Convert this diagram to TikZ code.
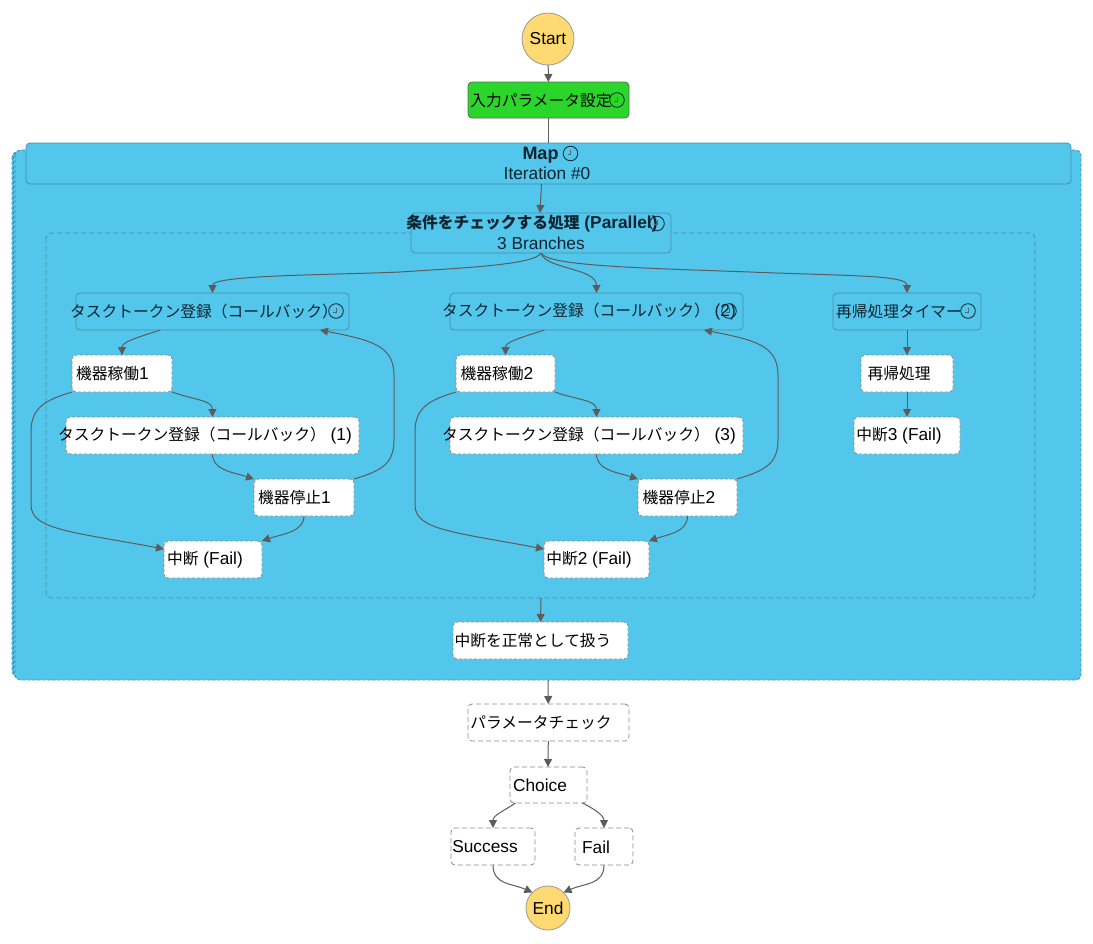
\documentclass[tikz,border=0pt]{standalone}
\usepackage{fontspec}
\setmainfont{Liberation Sans}
\newfontfamily\cjk[Scale=0.91]{Noto Sans CJK JP}
\usetikzlibrary{arrows.meta}
\definecolor{mapblue}{HTML}{53C6EC}
\definecolor{startyellow}{HTML}{FFD972}
\definecolor{okgreen}{HTML}{2BD62B}
\definecolor{edgegray}{HTML}{5C5C5C}
\definecolor{blueedge}{HTML}{4A8FAB}
\definecolor{dashgray}{HTML}{8A8A8A}
\definecolor{inkdark}{HTML}{0E2430}
\newcommand{\J}[1]{{\cjk #1}}
\newcommand{\bx}[8][]{%
  \node[#1,minimum width={(#5-#3)*1pt},minimum height={(#6-#4)*1pt}] (#2) at ({(#3+#5)/2},{(#4+#6)/2}) {};
  \node[txt] (#2t) at ({#7},{(#4+#6)/2+0.5}) {#8};}
\newcommand{\clk}[2]{%
  \draw[clockline] (#1,#2) circle[radius=7.3];
  \draw[clockhand] (#1,#2-3.5) -- (#1,#2+1) -- (#1-3,#2+1);}
\tikzset{
  base/.style={rectangle,rounded corners=4pt,inner sep=0pt,outer sep=0pt,line width=0.8pt},
  txt/.style={inner sep=0pt,outer sep=0pt,text=black,font=\fontsize{17.3}{20}\selectfont},
  ttxt/.style={inner sep=0pt,outer sep=0pt,text=inkdark,font=\fontsize{17.3}{20}\selectfont},
  okbox/.style={base,draw=gray!80!black,fill=okgreen},
  groupbox/.style={base,draw=blueedge,fill=mapblue},
  donebox/.style={base,draw=dashgray,dash pattern=on 3pt off 2pt,fill=white},
  waitbox/.style={base,draw=dashgray,dash pattern=on 5pt off 3pt,fill=white},
  terminal/.style={circle,draw=gray!80,fill=startyellow,inner sep=0pt,outer sep=0pt,line width=0.8pt},
  edge/.style={draw=edgegray,line width=1pt,-{Triangle[length=8pt,width=8pt]}},
  plain/.style={draw=edgegray,line width=1pt},
  clockline/.style={draw=inkdark,line width=0.8pt},
  clockhand/.style={draw=inkdark!70,line width=0.5pt},
  mapstack/.style={rounded corners=5pt,fill=mapblue,draw=blueedge,dash pattern=on 3pt off 2pt,line width=0.8pt},
  region/.style={rounded corners=5pt,draw=blueedge,dash pattern=on 5pt off 3pt,line width=0.8pt},
}
\begin{document}
\begin{tikzpicture}[x=1pt,y=-1pt]
\useasboundingbox (0,0) rectangle (1093,943);
% map group
\draw[mapstack] (12,152) rectangle (1071,676);
\draw[mapstack] (13.5,151) rectangle (1076,678);
\draw[mapstack] (15,150) rectangle (1081,680);
\node[inner sep=0pt,minimum size=0pt] (mapbottom) at (548,680) {};
\bx[groupbox]{map}{26}{143}{1071}{184}{548}{}
\node[ttxt,font=\fontsize{18}{20}\selectfont\bfseries] (maptitle) at (540.5,155) {Map};
\node[ttxt] (mapsub) at (547,173.5) {Iteration \#0};
\clk{570.5}{153.5}
% branches region
\draw[region] (46,233) rectangle (1035,598);
\node[inner sep=0pt,minimum size=0pt] (regionbottom) at (541,598) {};
% parallel
\bx[groupbox]{par}{411}{213}{671}{253}{541}{}
\node[ttxt,font=\fontsize{17.3}{20}\selectfont\bfseries] (partitle) at (532,223.5) {\J{条件をチェックする処理} (Parallel)};
\node[ttxt] (parsub) at (541,243.5) {3 Branches};
\clk{657}{223.5}
% top
\node[terminal,minimum size=52pt] (start) at (548,39) {};
\node[txt] (startt) at (548,38.5) {Start};
\bx[okbox]{input}{468}{82}{629}{118}{541}{\J{入力パラメータ設定}}
\clk{617}{100}
% task nodes
\bx[groupbox]{taskA}{76}{293}{349}{330}{204}{\textcolor{inkdark}{\J{タスクトークン登録（コールバック）}}}
\clk{336}{311}
\bx[groupbox]{taskB}{450}{293}{743}{330}{589}{\textcolor{inkdark}{\J{タスクトークン登録（コールバック）} (2)}}
\clk{729}{311}
\bx[groupbox]{timer}{833}{293}{981}{330}{899}{\textcolor{inkdark}{\J{再帰処理タイマー}}}
\clk{968}{311}
\bx[donebox]{machA}{72}{355}{172}{392}{112.5}{\J{機器稼働}1}
\bx[donebox]{taskC}{66}{417}{359}{454}{205}{\J{タスクトークン登録（コールバック）} (1)}
\bx[donebox]{stopA}{254}{479}{354}{516}{294.5}{\J{機器停止}1}
\bx[donebox]{failA}{164}{541}{262}{578}{205}{\J{中断} (Fail)}
\bx[donebox]{machB}{456}{355}{555}{392}{497}{\J{機器稼働}2}
\bx[donebox]{taskD}{450}{417}{743}{454}{589}{\J{タスクトークン登録（コールバック）} (3)}
\bx[donebox]{stopB}{638}{479}{737}{516}{679}{\J{機器停止}2}
\bx[donebox]{failB}{544}{541}{649}{578}{589}{\J{中断}2 (Fail)}
\bx[donebox]{rec}{861}{355}{953}{392}{899}{\J{再帰処理}}
\bx[donebox]{failC}{854}{417}{960}{454}{899}{\J{中断}3 (Fail)}
\bx[donebox]{normal}{453}{622}{628}{659}{533}{\J{中断を正常として扱う}}
\bx[waitbox]{param}{468}{704}{629}{741}{541}{\J{パラメータチェック}}
\bx[waitbox]{choice}{510}{767}{587}{803}{540}{Choice}
\bx[waitbox]{succ}{451}{828}{535}{865}{485}{Success}
\bx[waitbox]{fail}{575}{828}{633}{865}{596}{Fail}
\node[terminal,minimum size=44pt] (end) at (548,908) {};
\node[txt] (endt) at (548,908) {End};
% waypoints
\coordinate (parL) at (400,272);
\coordinate (parR) at (750,272);
\coordinate (loopAa) at (394,440);
\coordinate (loopAb) at (394,375);
\coordinate (loopBa) at (778,440);
\coordinate (loopBb) at (778,375);
\coordinate (leftAa) at (31,432);
\coordinate (leftAb) at (31,505);
\coordinate (leftBa) at (415,432);
\coordinate (leftBb) at (415,505);
% edges
\draw[edge] (start) -- (input);
\draw[plain] (input) -- (map);
\draw[edge] ([xshift=-7pt]map.south) -- ([xshift=-1pt]par.north);
\draw[edge] (par.south) .. controls +(-6,12) and +(60,-4) .. (parL)
  .. controls +(-70,3) and ([yshift=18pt]taskA.north) .. (taskA.north);
\draw[edge] (par.south) .. controls +(4,16) and ([yshift=25pt]taskB.north) .. (taskB.north);
\draw[edge] (par.south) .. controls +(7,13) and +(-110,-4) .. (parR)
  .. controls +(100,4) and ([yshift=18pt]timer.north) .. (timer.north);
\draw[edge] ([xshift=-52pt]taskA.south) .. controls +(-25,8) and ([yshift=13pt]machA.north) .. (machA.north);
\draw[edge] ([xshift=-52pt]taskB.south) .. controls +(-25,8) and ([yshift=13pt]machB.north) .. (machB.north);
\draw[edge] (machA.south east) .. controls +(22,8) and ([yshift=17pt]taskC.north) .. (taskC.north);
\draw[edge] (machB.south east) .. controls +(22,8) and ([yshift=17pt]taskD.north) .. (taskD.north);
\draw[edge] (machA.south west) .. controls +(-26,8) and +(0,-25) .. (leftAa) -- (leftAb)
  .. controls +(0,25) and +(-90,-17) .. ([yshift=-8pt]failA.north west);
\draw[edge] (machB.south west) .. controls +(-26,8) and +(0,-25) .. (leftBa) -- (leftBb)
  .. controls +(0,25) and +(-90,-17) .. ([yshift=-8pt]failB.north west);
\draw[edge] (taskC.south) .. controls +(0,16) and +(-22,-7) .. (stopA.north west);
\draw[edge] (taskD.south) .. controls +(0,16) and +(-22,-7) .. (stopB.north west);
\draw[edge] (stopA.north east) .. controls +(26,-8) and +(0,25) .. (loopAa) -- (loopAb)
  .. controls +(0,-30) and +(50,10) .. ([xshift=-29pt]taskA.south east);
\draw[edge] (stopB.north east) .. controls +(26,-8) and +(0,25) .. (loopBa) -- (loopBb)
  .. controls +(0,-30) and +(50,10) .. ([xshift=-39pt]taskB.south east);
\draw[edge] (stopA.south) .. controls +(0,16) and +(20,-7) .. (failA.north east);
\draw[edge] (stopB.south) .. controls +(0,16) and +(20,-7) .. (failB.north east);
\draw[edge] (timer) -- (rec);
\draw[edge] (rec) -- (failC);
\draw[edge] (regionbottom) -- (normal.north);
\draw[edge] (mapbottom) -- (param);
\draw[edge] (param) -- ([xshift=-.5pt]choice.north);
\draw[edge] ([xshift=-33pt]choice.south) .. controls +(-10,7) and ([yshift=13pt]succ.north) .. (succ.north);
\draw[edge] ([xshift=34pt]choice.south) .. controls +(10,5) and ([yshift=13pt]fail.north) .. (fail.north);
\draw[edge] (succ.south) .. controls +(0,20) and +(-20,-9) .. (end.north west);
\draw[edge] (fail.south) .. controls +(0,20) and +(20,-9) .. (end.north east);
\end{tikzpicture}
\end{document}
